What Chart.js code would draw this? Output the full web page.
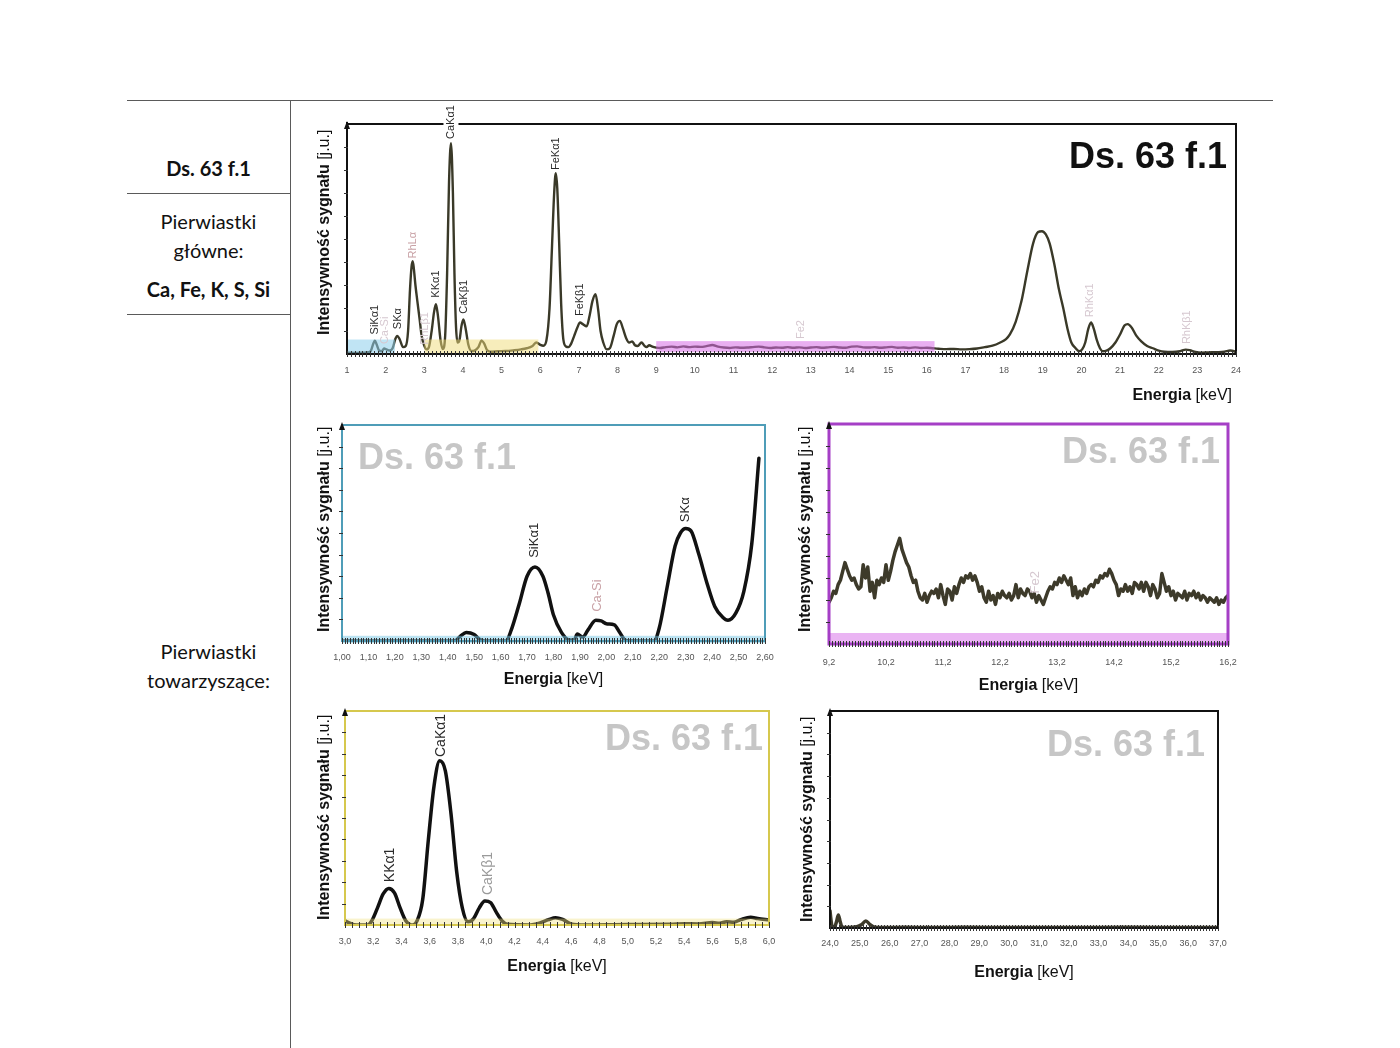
<!DOCTYPE html>
<html lang="pl">
<head>
<meta charset="utf-8">
<title>Ds. 63 f.1</title>
<script src="https://cdn.jsdelivr.net/npm/chart.js@4.4.1/dist/chart.umd.min.js"></script>
<style>
  html, body { margin: 0; padding: 0; background: #fff; }
  body { width: 1400px; height: 1048px; position: relative; overflow: hidden; font-family: Lato, 'Open Sans', sans-serif; }
  .linia { position: absolute; background: #5a5a5a; }
  .opis { position: absolute; left: 127px; width: 163px; text-align: center; font-size: 20px; line-height: 24px; color: #111; }
  .wykres { position: absolute; }
</style>
</head>
<body>
<!-- tabela -->
<div class="linia" style="left:127px;top:100px;width:1146px;height:1px"></div>
<div class="linia" style="left:290px;top:100px;width:1px;height:948px"></div>
<div class="linia" style="left:127px;top:193px;width:163px;height:1px"></div>
<div class="linia" style="left:127px;top:314px;width:163px;height:1px"></div>
<div class="opis" style="top:156px;font-weight:bold">Ds. 63 f.1</div>
<div class="opis" style="top:209px">Pierwiastki</div>
<div class="opis" style="top:238px">główne:</div>
<div class="opis" style="top:277px;font-weight:bold">Ca, Fe, K, S, Si</div>
<div class="opis" style="top:639px">Pierwiastki</div>
<div class="opis" style="top:668px">towarzyszące:</div>

<canvas id="wykresGlowny" class="wykres" width="955" height="320" style="left:295px;top:95px"></canvas>
<canvas id="wykresNiebieski" class="wykres" width="480" height="285" style="left:300px;top:410px"></canvas>
<canvas id="wykresFioletowy" class="wykres" width="460" height="290" style="left:785px;top:410px"></canvas>
<canvas id="wykresZolty" class="wykres" width="480" height="290" style="left:300px;top:695px"></canvas>
<canvas id="wykresCzarny" class="wykres" width="460" height="295" style="left:785px;top:695px"></canvas>

<script>
/* ================= DANE ================= */

// Widmo główne 1-24 keV (intensywność w j.u., skala 0-100)
const energiaGlowna = [1.00, 1.20, 1.40, 1.55, 1.62, 1.68, 1.72, 1.77, 1.83, 1.90,
  1.96, 2.02, 2.10, 2.18, 2.25, 2.30, 2.36, 2.45, 2.52, 2.58,
  2.63, 2.67, 2.70, 2.73, 2.77, 2.82, 2.88, 2.93, 3.00, 3.06,
  3.12, 3.19, 3.25, 3.30, 3.35, 3.42, 3.48, 3.54, 3.59, 3.64,
  3.69, 3.74, 3.78, 3.82, 3.86, 3.91, 3.96, 4.01, 4.07, 4.14,
  4.22, 4.30, 4.40, 4.48, 4.55, 4.62, 4.72, 4.90, 5.10, 5.30,
  5.50, 5.65, 5.80, 5.90, 6.00, 6.08, 6.16, 6.24, 6.30, 6.36,
  6.40, 6.44, 6.49, 6.54, 6.60, 6.67, 6.73, 6.80, 6.88, 6.96,
  7.03, 7.10, 7.20, 7.28, 7.35, 7.43, 7.50, 7.56, 7.63, 7.72,
  7.80, 7.90, 7.98, 8.06, 8.14, 8.22, 8.30, 8.38, 8.45, 8.52,
  8.62, 8.70, 8.75, 8.82, 8.90, 9.00, 9.10, 9.25, 9.40, 9.55,
  9.70, 9.85, 10.00, 10.15, 10.30, 10.45, 10.60, 10.75, 10.90, 11.05,
  11.20, 11.35, 11.50, 11.65, 11.80, 11.95, 12.10, 12.25, 12.40, 12.55,
  12.70, 12.85, 13.00, 13.15, 13.30, 13.45, 13.60, 13.75, 13.90, 14.05,
  14.20, 14.35, 14.50, 14.65, 14.80, 14.95, 15.10, 15.25, 15.40, 15.55,
  15.70, 15.85, 16.00, 16.15, 16.30, 16.50, 16.70, 16.90, 17.10, 17.30,
  17.50, 17.70, 17.90, 18.05, 18.15, 18.30, 18.45, 18.60, 18.75, 18.88,
  18.98, 19.08, 19.18, 19.30, 19.42, 19.53, 19.64, 19.74, 19.85, 19.94,
  20.02, 20.10, 20.18, 20.25, 20.32, 20.40, 20.48, 20.55, 20.65, 20.75,
  20.88, 21.00, 21.12, 21.20, 21.30, 21.42, 21.55, 21.70, 21.85, 22.00,
  22.15, 22.35, 22.55, 22.70, 22.80, 22.95, 23.10, 23.30, 23.50, 23.70,
  23.85, 23.95, 24.00];
const sygnalGlowny = [0.6, 0.5, 0.6, 0.8, 1.5, 4.5, 5.8, 4.0, 1.5, 1.2,
  2.4, 2.0, 1.5, 2.5, 6.5, 7.9, 6.5, 3.0, 3.5, 10,
  28, 38, 40.4, 37, 30, 23, 15, 8, 3.5, 2,
  3, 10, 18, 21.6, 17, 6, 2.2, 8, 35, 75,
  91.6, 70, 35, 12, 5, 6, 12, 15, 11, 4,
  1.3, 1.5, 3, 5.8, 4.5, 1.8, 1.0, 1.2, 1.3, 1.6,
  2.0, 2.5, 3.5, 5.0, 4.0, 3.6, 6, 20, 45, 70,
  78.6, 72, 48, 22, 6, 3.2, 3.0, 4.5, 8, 11.5,
  13.7, 13, 12, 17, 23, 26, 19, 10, 5, 2,
  2.5, 8, 13, 14.4, 11, 7, 5, 5.5, 3.8, 3.5,
  5.0, 3.5, 3.0, 3.8, 3.2, 2.8, 2.6, 3.0, 3.2, 2.9,
  3.3, 3.0, 3.2, 3.1, 3.4, 3.9, 3.2, 2.8, 2.6, 2.9,
  2.7, 2.8, 3.0, 3.2, 2.9, 2.6, 2.8, 2.7, 3.0, 2.7,
  2.9, 2.6, 2.8, 3.0, 2.7, 2.9, 3.1, 2.8, 2.7, 3.2,
  3.3, 2.9, 2.8, 3.0, 2.7, 2.9, 3.1, 2.7, 2.8, 2.6,
  2.9, 2.6, 2.7, 2.5, 2.3, 2.1, 2.2, 2.0, 2.1, 2.4,
  3.0, 3.6, 5.0, 6.5, 8.5, 14, 23, 36, 48, 53,
  53.4, 52, 48, 39, 28, 20, 11, 5, 2.5, 1.2,
  2.0, 5, 11, 13.7, 11, 6, 2.5, 1.2, 1.5, 2.5,
  5, 8.5, 12.5, 13, 11.5, 8, 5.5, 3.5, 2.5, 1.5,
  1.0, 0.9, 1.2, 1.9, 1.7, 0.9, 0.6, 0.7, 0.8, 1.0,
  1.5, 1.2, 0.8];

// Zakres 1,00-2,60 keV (niebieski)
const energiaNiebieska = [1.00, 1.40, 1.43, 1.45, 1.47, 1.50, 1.52, 1.54, 1.62, 1.64,
  1.67, 1.70, 1.73, 1.76, 1.78, 1.80, 1.83, 1.86, 1.88, 1.89,
  1.91, 1.93, 1.96, 1.98, 2.00, 2.03, 2.05, 2.07, 2.09, 2.18,
  2.20, 2.23, 2.26, 2.28, 2.30, 2.32, 2.35, 2.38, 2.41, 2.44,
  2.46, 2.49, 2.52, 2.55, 2.577];
const sygnalNiebieski = [0, 0, 0.3, 2.5, 3.9, 3.0, 0.8, 0, 0, 5,
  17, 30, 34.3, 30, 22, 12, 4, 0.5, 0.8, 3.2,
  1.8, 5, 9.6, 9.3, 8, 7.5, 4, 0.5, 0, 0,
  6, 25, 44, 50, 52.1, 51, 40, 27, 16, 11,
  9.6, 13, 23, 45, 84.6];

// Zakres 9,2-16,2 keV (fioletowy)
const energiaFiolet = [9.20, 9.24, 9.28, 9.32, 9.36, 9.40, 9.44, 9.48, 9.52, 9.56,
  9.60, 9.64, 9.68, 9.72, 9.76, 9.80, 9.84, 9.88, 9.92, 9.96,
  10.00, 10.04, 10.08, 10.12, 10.16, 10.20, 10.24, 10.28, 10.32, 10.36,
  10.40, 10.44, 10.48, 10.52, 10.56, 10.60, 10.64, 10.68, 10.72, 10.76,
  10.80, 10.84, 10.88, 10.92, 10.96, 11.00, 11.04, 11.08, 11.12, 11.16,
  11.20, 11.24, 11.28, 11.32, 11.36, 11.40, 11.44, 11.48, 11.52, 11.56,
  11.60, 11.64, 11.68, 11.72, 11.76, 11.80, 11.84, 11.88, 11.92, 11.96,
  12.00, 12.04, 12.08, 12.12, 12.16, 12.20, 12.24, 12.28, 12.32, 12.36,
  12.40, 12.44, 12.48, 12.52, 12.56, 12.60, 12.64, 12.68, 12.72, 12.76,
  12.80, 12.84, 12.88, 12.92, 12.96, 13.00, 13.04, 13.08, 13.12, 13.16,
  13.20, 13.24, 13.28, 13.32, 13.36, 13.40, 13.44, 13.48, 13.52, 13.56,
  13.60, 13.64, 13.68, 13.72, 13.76, 13.80, 13.84, 13.88, 13.92, 13.96,
  14.00, 14.04, 14.08, 14.12, 14.16, 14.20, 14.24, 14.28, 14.32, 14.36,
  14.40, 14.44, 14.48, 14.52, 14.56, 14.60, 14.64, 14.68, 14.72, 14.76,
  14.80, 14.84, 14.88, 14.92, 14.96, 15.00, 15.04, 15.08, 15.12, 15.16,
  15.20, 15.24, 15.28, 15.32, 15.36, 15.40, 15.44, 15.48, 15.52, 15.56,
  15.60, 15.64, 15.68, 15.72, 15.76, 15.80, 15.84, 15.88, 15.92, 15.96,
  16.00, 16.04, 16.08, 16.12, 16.16, 16.20];
const sygnalFiolet = [19, 21, 24, 23, 27, 29, 33, 37, 34, 31,
  29, 30, 27, 25, 26, 36, 30, 35, 24, 28,
  21, 29, 27, 30, 28, 36, 29, 33, 38, 42,
  45, 48, 43, 40, 37, 35, 31, 28, 29, 24,
  21, 20, 23, 19, 22, 24, 23, 25, 21, 27,
  22, 18, 25, 24, 20, 26, 23, 27, 30, 28,
  31, 30, 32, 29, 31, 28, 24, 26, 21, 19,
  24, 20, 22, 18, 23, 21, 24, 22, 21, 23,
  20, 22, 27, 21, 25, 23, 22, 25, 24, 21,
  23, 19, 22, 20, 18, 21, 24, 26, 25, 28,
  27, 30, 28, 31, 29, 27, 30, 22, 26, 21,
  24, 22, 25, 23, 26, 27, 26, 29, 28, 31,
  30, 32, 31, 34, 32, 29, 27, 22, 25, 24,
  27, 24, 26, 23, 28, 27, 25, 28, 24, 28,
  26, 22, 27, 25, 21, 23, 32, 28, 24, 26,
  22, 24, 20, 23, 22, 21, 24, 20, 23, 22,
  24, 21, 23, 20, 22, 21, 19, 21, 20, 19,
  21, 18, 20, 19, 21, 22];

// Zakres 3,0-6,0 keV (żółty)
const energiaZolta = [3.00, 3.03, 3.08, 3.16, 3.19, 3.23, 3.27, 3.31, 3.35, 3.39,
  3.43, 3.47, 3.51, 3.55, 3.59, 3.63, 3.67, 3.71, 3.75, 3.79,
  3.83, 3.87, 3.91, 3.95, 3.99, 4.03, 4.07, 4.11, 4.15, 4.30,
  4.38, 4.44, 4.49, 4.54, 4.60, 4.70, 5.00, 5.30, 5.40, 5.50,
  5.60, 5.65, 5.70, 5.75, 5.80, 5.87, 5.92, 6.00];
const sygnalZolty = [2, 1, 0, 0, 2, 8, 14.5, 17.1, 15, 8,
  2, 0, 2, 12, 40, 65, 76.7, 72, 52, 25,
  8, 1.5, 3, 8, 11.2, 10.5, 6, 2, 0.3, 0,
  1, 2.5, 3.4, 2.6, 0.5, 0, 0.2, 0.3, 0.6, 0.5,
  1.2, 0.8, 1.5, 1.3, 2.5, 3.6, 3.0, 2.4];

// Zakres 24,0-37,0 keV (czarny)
const energiaCzarna = [24.00, 24.03, 24.07, 24.15, 24.22, 24.28, 24.34, 24.40, 24.60, 24.90,
  25.05, 25.20, 25.35, 25.50, 25.80, 26.50, 27.50, 28.50, 30.00, 32.00,
  34.00, 36.00, 37.00];
const sygnalCzarny = [8, 4, 0.8, 0.5, 3, 6, 3, 0.5, 0.2, 0.6,
  1.5, 3.2, 1.5, 0.4, 0.2, 0.3, 0.2, 0.3, 0.2, 0.2,
  0.3, 0.2, 0.2];

// Opisy pików: nazwa linii, energia, wysokość podstawy napisu
const etykietyGlowne = [
  { tekst: 'SiKα1', x: 1.72, y: 8.5 },
  { tekst: 'Ca-Si', x: 1.99, y: 4.3, slaba: true },
  { tekst: 'SKα', x: 2.31, y: 10.8 },
  { tekst: 'RhLα', x: 2.70, y: 41.5, rh: true },
  { tekst: 'RhLβ1', x: 3.02, y: 4, slaba: true },
  { tekst: 'KKα1', x: 3.30, y: 24.5 },
  { tekst: 'CaKα1', x: 3.69, y: 93.5, tlo: true },
  { tekst: 'CaKβ1', x: 4.02, y: 17.5 },
  { tekst: 'FeKα1', x: 6.40, y: 80 },
  { tekst: 'FeKβ1', x: 7.03, y: 16.5 },
  { tekst: 'Fe2', x: 12.75, y: 6.5, slaba: true },
  { tekst: 'RhKα1', x: 20.22, y: 16, slaba: true },
  { tekst: 'RhKβ1', x: 22.72, y: 4.3, slaba: true }
];
const etykietyNiebieskie = [
  { tekst: 'SiKα1', x: 1.728, y: 38.5 },
  { tekst: 'Ca-Si', x: 1.965, y: 13.5, rh: true },
  { tekst: 'SKα', x: 2.30, y: 55 }
];
const etykietyFiolet = [
  { tekst: 'Fe2', x: 12.82, y: 23, slaba: true }
];
const etykietyZolte = [
  { tekst: 'KKα1', x: 3.32, y: 20 },
  { tekst: 'CaKα1', x: 3.68, y: 78.5 },
  { tekst: 'CaKβ1', x: 4.01, y: 14, szara: true }
];

/* ================= RYSOWANIE ================= */

var czcionka = "'Liberation Sans', Arial, sans-serif";

// Dodatki: pasma, ramka, podziałka, opisy pików, tytuły osi i napis próbki
function dodatki(u) {
  return {
    id: 'dodatki',
    afterDatasetsDraw: function (chart) {
      var ctx = chart.ctx, a = chart.chartArea, sx = chart.scales.x, sy = chart.scales.y;
      ctx.save();

      // zaznaczone zakresy energii
      (u.pasma || []).forEach(function (p) {
        var x1 = sx.getPixelForValue(p.od), x2 = sx.getPixelForValue(p.do);
        var y1 = sy.getPixelForValue(p.gora), y2 = sy.getPixelForValue(p.dol);
        ctx.fillStyle = p.kolor;
        ctx.fillRect(x1, y1, x2 - x1, y2 - y1);
      });

      // ramka
      ctx.strokeStyle = u.kolorRamki;
      ctx.lineWidth = u.gruboscRamki;
      ctx.strokeRect(a.left, a.top, a.right - a.left, a.bottom - a.top);
      if (u.osCzarna) {
        ctx.strokeStyle = '#111';
        ctx.lineWidth = 2;
        ctx.beginPath();
        ctx.moveTo(a.left, a.top - 2); ctx.lineTo(a.left, a.bottom); ctx.lineTo(a.right, a.bottom);
        ctx.stroke();
      }

      // podziałka osi X
      ctx.strokeStyle = '#333';
      ctx.lineWidth = 1;
      ctx.beginPath();
      sx.ticks.forEach(function (t) {
        var x = Math.round(sx.getPixelForValue(t.value)) + 0.5;
        ctx.moveTo(x, a.bottom - 3);
        ctx.lineTo(x, a.bottom + 3);
      });
      // podziałka osi Y
      for (var v = 10; v < 100; v += 10) {
        var y = Math.round(sy.getPixelForValue(v)) + 0.5;
        ctx.moveTo(a.left - 3, y);
        ctx.lineTo(a.left + 1, y);
      }
      ctx.stroke();

      // strzałka osi Y
      ctx.fillStyle = '#111';
      ctx.beginPath();
      ctx.moveTo(a.left, a.top - 3);
      ctx.lineTo(a.left - 3, a.top + 5);
      ctx.lineTo(a.left + 3, a.top + 5);
      ctx.closePath();
      ctx.fill();

      // opisy pików (pionowo)
      (u.etykiety || []).forEach(function (e) {
        var px = sx.getPixelForValue(e.x), py = sy.getPixelForValue(e.y);
        ctx.save();
        ctx.translate(px, py);
        ctx.rotate(-Math.PI / 2);
        ctx.font = u.rozmiarEtykiet + 'px ' + czcionka;
        ctx.textAlign = 'left';
        ctx.textBaseline = 'middle';
        if (e.tlo) {
          var w = ctx.measureText(e.tekst).width;
          ctx.fillStyle = '#fff';
          ctx.fillRect(-2, -u.rozmiarEtykiet / 2 - 2, w + 4, u.rozmiarEtykiet + 4);
        }
        ctx.fillStyle = e.slaba ? '#d6c8d0' : e.rh ? '#c9a2a6' : e.szara ? '#9a9a9a' : '#2a2a2a';
        ctx.fillText(e.tekst, 0, 0);
        ctx.restore();
      });

      // tytuł osi Y
      ctx.save();
      ctx.translate(a.left - u.osY.dx, a.bottom - u.osY.dol);
      ctx.rotate(-Math.PI / 2);
      ctx.textBaseline = 'middle';
      ctx.textAlign = 'left';
      ctx.fillStyle = '#111';
      ctx.font = 'bold 16px ' + czcionka;
      var czesc1 = 'Intensywność sygnału ';
      ctx.fillText(czesc1, 0, 0);
      var w1 = ctx.measureText(czesc1).width;
      ctx.font = '16px ' + czcionka;
      ctx.fillText('[j.u.]', w1, 0);
      ctx.restore();

      // tytuł osi X
      ctx.font = 'bold 16px ' + czcionka;
      var wE = ctx.measureText('Energia ').width;
      ctx.font = '16px ' + czcionka;
      var wK = ctx.measureText('[keV]').width;
      var xStart = u.osX.prawo ? a.right - u.osX.prawo - wE - wK : (a.left + a.right) / 2 - (wE + wK) / 2;
      var yE = a.bottom + u.osX.dy;
      ctx.textBaseline = 'middle';
      ctx.textAlign = 'left';
      ctx.fillStyle = '#111';
      ctx.font = 'bold 16px ' + czcionka;
      ctx.fillText('Energia ', xStart, yE);
      ctx.font = '16px ' + czcionka;
      ctx.fillText('[keV]', xStart + wE, yE);

      // napis próbki
      ctx.font = 'bold 36px ' + czcionka;
      ctx.fillStyle = u.tytul.kolor;
      ctx.textBaseline = 'alphabetic';
      if (u.tytul.lewo !== undefined) {
        ctx.textAlign = 'left';
        ctx.fillText('Ds. 63 f.1', a.left + u.tytul.lewo, a.top + u.tytul.dy);
      } else {
        ctx.textAlign = 'right';
        ctx.fillText('Ds. 63 f.1', a.right - u.tytul.prawo, a.top + u.tytul.dy);
      }
      ctx.restore();
    }
  };
}

function rysujWidmo(id, u) {
  var punkty = u.energia.map(function (e, i) { return { x: e, y: u.sygnal[i] }; });
  return new Chart(document.getElementById(id), {
    type: 'line',
    data: {
      datasets: [{
        data: punkty,
        borderColor: u.kolorLinii,
        borderWidth: u.gruboscLinii,
        pointRadius: 0,
        fill: false,
        tension: u.gladka ? 0.4 : 0,
        cubicInterpolationMode: u.gladka ? 'monotone' : 'default',
        borderJoinStyle: 'round',
        borderCapStyle: 'round'
      }]
    },
    options: {
      responsive: false,
      animation: false,
      events: [],
      layout: { padding: u.margines },
      plugins: { legend: { display: false }, tooltip: { enabled: false } },
      scales: {
        x: {
          type: 'linear', min: u.xMin, max: u.xMax,
          // stała wysokość osi i bez dodatkowego marginesu na skrajne etykiety
          afterFit: function (s) { s.height = 28; s.paddingLeft = 0; s.paddingRight = 0; },
          grid: { display: false, drawTicks: false },
          border: { display: false },
          ticks: {
            stepSize: u.krokDrobny, autoSkip: false, maxRotation: 0, minRotation: 0,
            padding: u.odstep, color: '#555',
            font: { size: 9, family: czcionka },
            callback: function (v) {
              var k = (v - u.xMin) / u.krokGlowny;
              return Math.abs(k - Math.round(k)) < 1e-6 ? u.format(v) : '';
            }
          }
        },
        y: {
          min: 0, max: 100,
          afterFit: function (s) { s.width = 0; },
          grid: { display: false, drawTicks: false },
          border: { display: false },
          ticks: { display: false, stepSize: 10 }
        }
      }
    },
    plugins: [dodatki(u)]
  });
}

function przecinek(miejsca) {
  return function (v) { return v.toFixed(miejsca).replace('.', ','); };
}

// Wykres główny
rysujWidmo('wykresGlowny', {
  energia: energiaGlowna, sygnal: sygnalGlowny, etykiety: etykietyGlowne,
  xMin: 1, xMax: 24, krokDrobny: 0.1, krokGlowny: 1, format: function (v) { return String(Math.round(v)); },
  margines: { left: 52, right: 14, top: 29, bottom: 33 }, odstep: 11,
  kolorLinii: '#3a3928', gruboscLinii: 2.4, gladka: true,
  kolorRamki: '#111', gruboscRamki: 2, osCzarna: true, rozmiarEtykiet: 11,
  pasma: [
    { od: 1.02, do: 2.24, dol: -0.4, gora: 6.3, kolor: 'rgba(140,205,235,0.55)' },
    { od: 3.0, do: 5.95, dol: -0.4, gora: 6.3, kolor: 'rgba(240,220,120,0.5)' },
    { od: 9.0, do: 16.2, dol: 0.8, gora: 5.6, kolor: 'rgba(215,110,230,0.55)' }
  ],
  osY: { dx: 22, dol: 19 }, osX: { prawo: 4, dy: 42 },
  tytul: { prawo: 9, dy: 44, kolor: '#111' }
});

// Zakres 1,00-2,60 keV
rysujWidmo('wykresNiebieski', {
  energia: energiaNiebieska, sygnal: sygnalNiebieski, etykiety: etykietyNiebieskie,
  xMin: 1, xMax: 2.6, krokDrobny: 0.01, krokGlowny: 0.1, format: przecinek(2),
  margines: { left: 42, right: 15, top: 15, bottom: 26 }, odstep: 11,
  kolorLinii: '#111', gruboscLinii: 3.5, gladka: true,
  kolorRamki: '#4f9db8', gruboscRamki: 2, rozmiarEtykiet: 13,
  pasma: [{ od: 1, do: 2.6, dol: -1, gora: 2.4, kolor: 'rgba(120,200,230,0.5)' }],
  osY: { dx: 17, dol: 9 }, osX: { dy: 39 },
  tytul: { lewo: 16, dy: 44, kolor: '#c6c6c6' }
});

// Zakres 9,2-16,2 keV
rysujWidmo('wykresFioletowy', {
  energia: energiaFiolet, sygnal: sygnalFiolet, etykiety: etykietyFiolet,
  xMin: 9.2, xMax: 16.2, krokDrobny: 0.05, krokGlowny: 1, format: przecinek(1),
  margines: { left: 44, right: 17, top: 14, bottom: 28 }, odstep: 13,
  kolorLinii: '#3d3a2a', gruboscLinii: 3.5, gladka: false,
  kolorRamki: '#a53fc6', gruboscRamki: 3, rozmiarEtykiet: 13,
  pasma: [{ od: 9.2, do: 16.2, dol: 0, gora: 5, kolor: 'rgba(220,130,235,0.6)' }],
  osY: { dx: 23, dol: 12 }, osX: { dy: 42 },
  tytul: { prawo: 8, dy: 39, kolor: '#c6c6c6' }
});

// Zakres 3,0-6,0 keV
rysujWidmo('wykresZolty', {
  energia: energiaZolta, sygnal: sygnalZolty, etykiety: etykietyZolte,
  xMin: 3, xMax: 6, krokDrobny: 0.05, krokGlowny: 0.2, format: przecinek(1),
  margines: { left: 45, right: 11, top: 16, bottom: 32 }, odstep: 11,
  kolorLinii: '#111', gruboscLinii: 3.5, gladka: true,
  kolorRamki: '#d6c84e', gruboscRamki: 2, rozmiarEtykiet: 14,
  pasma: [{ od: 3, do: 6, dol: 0, gora: 3, kolor: 'rgba(240,225,130,0.4)' }],
  osY: { dx: 20, dol: 5 }, osX: { dy: 42 },
  tytul: { prawo: 6, dy: 39, kolor: '#c6c6c6' }
});

// Zakres 24,0-37,0 keV
rysujWidmo('wykresCzarny', {
  energia: energiaCzarna, sygnal: sygnalCzarny, etykiety: [],
  xMin: 24, xMax: 37, krokDrobny: 0.1, krokGlowny: 1, format: przecinek(1),
  margines: { left: 45, right: 27, top: 16, bottom: 34 }, odstep: 10,
  kolorLinii: '#3d3a2a', gruboscLinii: 3.5, gladka: true,
  kolorRamki: '#111', gruboscRamki: 2, rozmiarEtykiet: 13,
  pasma: [],
  osY: { dx: 22, dol: 6 }, osX: { dy: 45 },
  tytul: { prawo: 13, dy: 45, kolor: '#c6c6c6' }
});
</script>
</body>
</html>
